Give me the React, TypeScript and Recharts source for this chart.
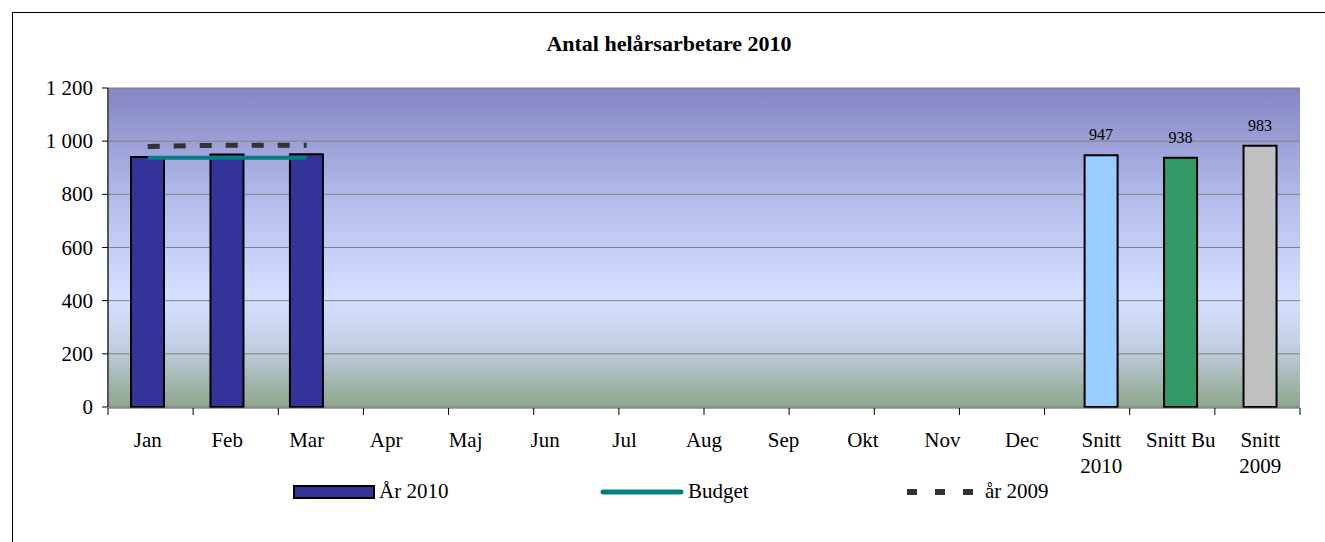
import { Bar, Cell, ComposedChart, LabelList, Line, XAxis, YAxis, CartesianGrid } from "recharts"

const categories = ["Jan", "Feb", "Mar", "Apr", "Maj", "Jun", "Jul", "Aug", "Sep", "Okt", "Nov", "Dec", "Snitt\n2010", "Snitt Bu", "Snitt\n2009"]
const ar2010 = [940, 950, 951, null, null, null, null, null, null, null, null, null, 947, 938, 983]
const budget = [938, 938, 938, null, null, null, null, null, null, null, null, null, null, null, null]
const ar2009 = [980, 985, 985, null, null, null, null, null, null, null, null, null, null, null, null]
const barLabels = [null, null, null, null, null, null, null, null, null, null, null, null, "947", "938", "983"]
const barColors = [...Array(12).fill("#333399"), "#99CCFF", "#339966", "#C0C0C0"]
const yTicks = [0, 200, 400, 600, 800, 1000, 1200]
const boundaryTicks = [0, 1, 2, 3, 4, 5, 6, 7, 8, 9, 10, 11, 12, 13, 14, 15]

const data = categories.map((c, i) => ({
  cat: c,
  ar2010: ar2010[i],
  budget: budget[i],
  ar2009: ar2009[i],
  label: barLabels[i],
}))

const FONT = '"Liberation Serif", "Times New Roman", serif'

const fmt = (v: number) => String(v).replace(/\B(?=(\d{3})+(?!\d))/g, " ")

function CatTick(props: any) {
  const { x, y, payload } = props
  const lines = String(payload.value).split("\n")
  return (
    <text x={x} y={y} textAnchor="middle" style={{ fontFamily: FONT, fontSize: 21 }} fill="#000">
      {lines.map((l, i) => (
        <tspan key={i} x={x} dy={i === 0 ? 32 : 26}>
          {l}
        </tspan>
      ))}
    </text>
  )
}

function ValTick(props: any) {
  const { x, y, payload } = props
  return (
    <text x={x} y={y} dy={7} textAnchor="end" style={{ fontFamily: FONT, fontSize: 21 }} fill="#000">
      {fmt(payload.value)}
    </text>
  )
}

function LegendBox() {
  const item = { display: "flex", alignItems: "center", width: 307 } as const
  const text = { fontFamily: FONT, fontSize: 21, marginLeft: 4, color: "#000" }
  return (
    <div style={{ position: "absolute", left: 293, top: 479, display: "flex" }}>
      <div style={item}>
        <span style={{ width: 78, height: 10, background: "#333399", border: "2px solid #000", display: "inline-block" }} />
        <span style={text}>År 2010</span>
      </div>
      <div style={item}>
        <svg width={84} height={10}>
          <line x1={3} y1={5} x2={81} y2={5} stroke="#008080" strokeWidth={5} strokeLinecap="round" />
        </svg>
        <span style={text}>Budget</span>
      </div>
      <div style={item}>
        <svg width={72} height={10}>
          <line x1={0} y1={5} x2={72} y2={5} stroke="#333" strokeWidth={6} strokeDasharray="10 18" />
        </svg>
        <span style={{ ...text, marginLeft: 6 }}>år 2009</span>
      </div>
    </div>
  )
}

export default function App() {
  return (
    <div style={{ position: "absolute", left: 0, top: 0, width: 1325, height: 542, overflow: "hidden", background: "#fff" }}>
      <div style={{ position: "absolute", left: 12, top: 12, width: 1320, height: 600, border: "1px solid #000", borderRightColor: "transparent" }} />
      <div style={{ position: "absolute", left: 0, top: 31, width: 1338, textAlign: "center", fontFamily: FONT, fontWeight: "bold", fontSize: 22 }}>
        Antal helårsarbetare 2010
      </div>
      <div style={{ position: "absolute", left: 0, top: 0 }}>
        <ComposedChart width={1325} height={542} data={data} margin={{ top: 88, right: 25, bottom: 133, left: 20 }}>
          <defs>
            <linearGradient id="plotBg" x1="0" y1="0" x2="0" y2="1">
              <stop offset="0%" stopColor="#8585C2" />
              <stop offset="35%" stopColor="#B4BCEC" />
              <stop offset="66%" stopColor="#D6E0FF" />
              <stop offset="80%" stopColor="#C4D0E6" />
              <stop offset="100%" stopColor="#8DA68A" />
            </linearGradient>
          </defs>
          <CartesianGrid vertical={false} stroke="#808080" fill="url(#plotBg)" fillOpacity={1} />
          <XAxis dataKey="cat" interval={0} tick={<CatTick />} axisLine={false} tickLine={false} height={1} />
          <XAxis
            xAxisId="grid"
            type="number"
            domain={[0, 15]}
            ticks={boundaryTicks}
            interval={0}
            tick={{ fontSize: 0 }}
            tickFormatter={() => ""}
            height={1}
            axisLine={{ stroke: "#555" }}
            tickLine={{ stroke: "#000" }}
            tickSize={7}
          />
          <YAxis
            domain={[0, 1200]}
            ticks={yTicks}
            width={88}
            tick={<ValTick />}
            axisLine={{ stroke: "#555", strokeWidth: 2 }}
            tickLine={{ stroke: "#000" }}
            tickSize={6}
            tickMargin={9}
          />
          <YAxis yAxisId="r" orientation="right" width={0} tick={false} tickLine={false} axisLine={{ stroke: "#808080" }} />
          <Bar dataKey="ar2010" barSize={33} stroke="#000" strokeWidth={2} isAnimationActive={false}>
            {data.map((d, i) => (
              <Cell key={d.cat} fill={barColors[i]} />
            ))}
            <LabelList dataKey="label" position="top" offset={15} style={{ fontFamily: FONT, fontSize: 16, fill: "#000" }} />
          </Bar>
          <Line dataKey="budget" stroke="#008080" strokeWidth={4} dot={false} isAnimationActive={false} />
          <Line dataKey="ar2009" stroke="#333" strokeWidth={5} strokeDasharray="12 14" dot={false} isAnimationActive={false} />
        </ComposedChart>
      </div>
      <LegendBox />
    </div>
  )
}
